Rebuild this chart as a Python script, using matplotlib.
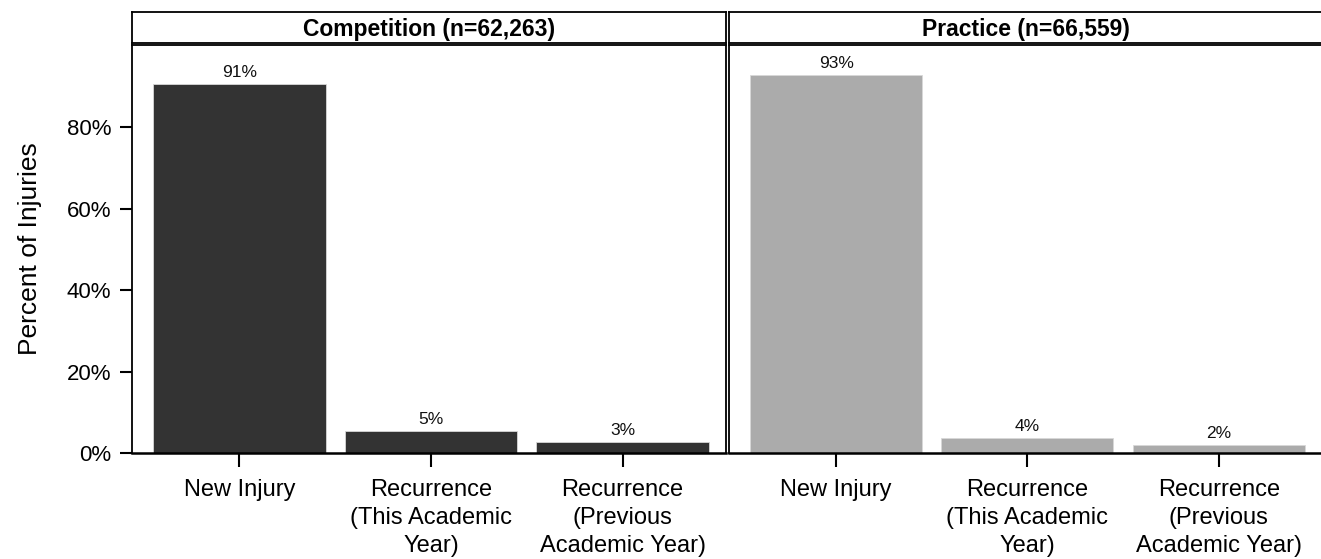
import matplotlib
matplotlib.use("Agg")
import matplotlib.pyplot as plt
import numpy as np

plt.rcParams['font.family'] = ['Liberation Sans', 'DejaVu Sans']

# data
categories = ["New Injury", "Recurrence\n(This Academic\nYear)", "Recurrence\n(Previous\nAcademic Year)"]
panels = ["Competition (n=62,263)", "Practice (n=66,559)"]
competition = [90.6, 5.3, 2.6]
practice = [92.8, 3.7, 2.0]
bar_labels = [["91%", "5%", "3%"], ["93%", "4%", "2%"]]
colors = ["#333333", "#ababab"]

W, H = 1321, 559
fig = plt.figure(figsize=(W / 100, H / 100), dpi=100)

def box(x0, y0, x1, y1):
    # pixel coords (top-left origin) -> figure fraction rect
    return [x0 / W, 1 - y1 / H, (x1 - x0) / W, (y1 - y0) / H]

panel_x = [(132, 726), (729, 1322)]
x = np.arange(len(categories))

for i, (vals, title) in enumerate(zip([competition, practice], panels)):
    x0, x1 = panel_x[i]
    ax = fig.add_axes(box(x0, 45, x1, 453))
    ax.bar(x, vals, width=0.9, color=colors[i], edgecolor="#d8d8d8", linewidth=0.6)
    for xi, v, lab in zip(x, vals, bar_labels[i]):
        ax.text(xi, v + 1.8, lab, ha="center", va="baseline", fontsize=12.5, color="#111111")
    ax.set_xlim(-0.56, 2.54)
    ax.set_ylim(0, 100.2)
    ax.set_xticks(x)
    ax.set_xticklabels(categories, fontsize=17, linespacing=1.35)
    ax.tick_params(axis="x", length=10, width=1.5, pad=9)
    for s in ["top", "left", "right"]:
        ax.spines[s].set_linewidth(1.3)
    ax.spines["bottom"].set_linewidth(1.8)
    ax.spines["right"].set_visible(i == 0)
    if i == 0:
        ax.set_yticks([0, 20, 40, 60, 80])
        ax.set_yticklabels(["0%", "20%", "40%", "60%", "80%"], fontsize=16)
        ax.tick_params(axis="y", length=9, width=1.5, pad=6)
        ax.set_ylabel("Percent of Injuries", fontsize=19, labelpad=18)
    else:
        ax.set_yticks([])

    hx = fig.add_axes(box(x0, 12, x1, 43))
    hx.set_xticks([])
    hx.set_yticks([])
    for s in hx.spines.values():
        s.set_linewidth(1.3)
    hx.spines["right"].set_visible(i == 0)
    hx.text(0.5, 0.45, title, ha="center", va="center", fontsize=16.5, fontweight="bold",
            transform=hx.transAxes)

fig.savefig("out.png", dpi=100)
